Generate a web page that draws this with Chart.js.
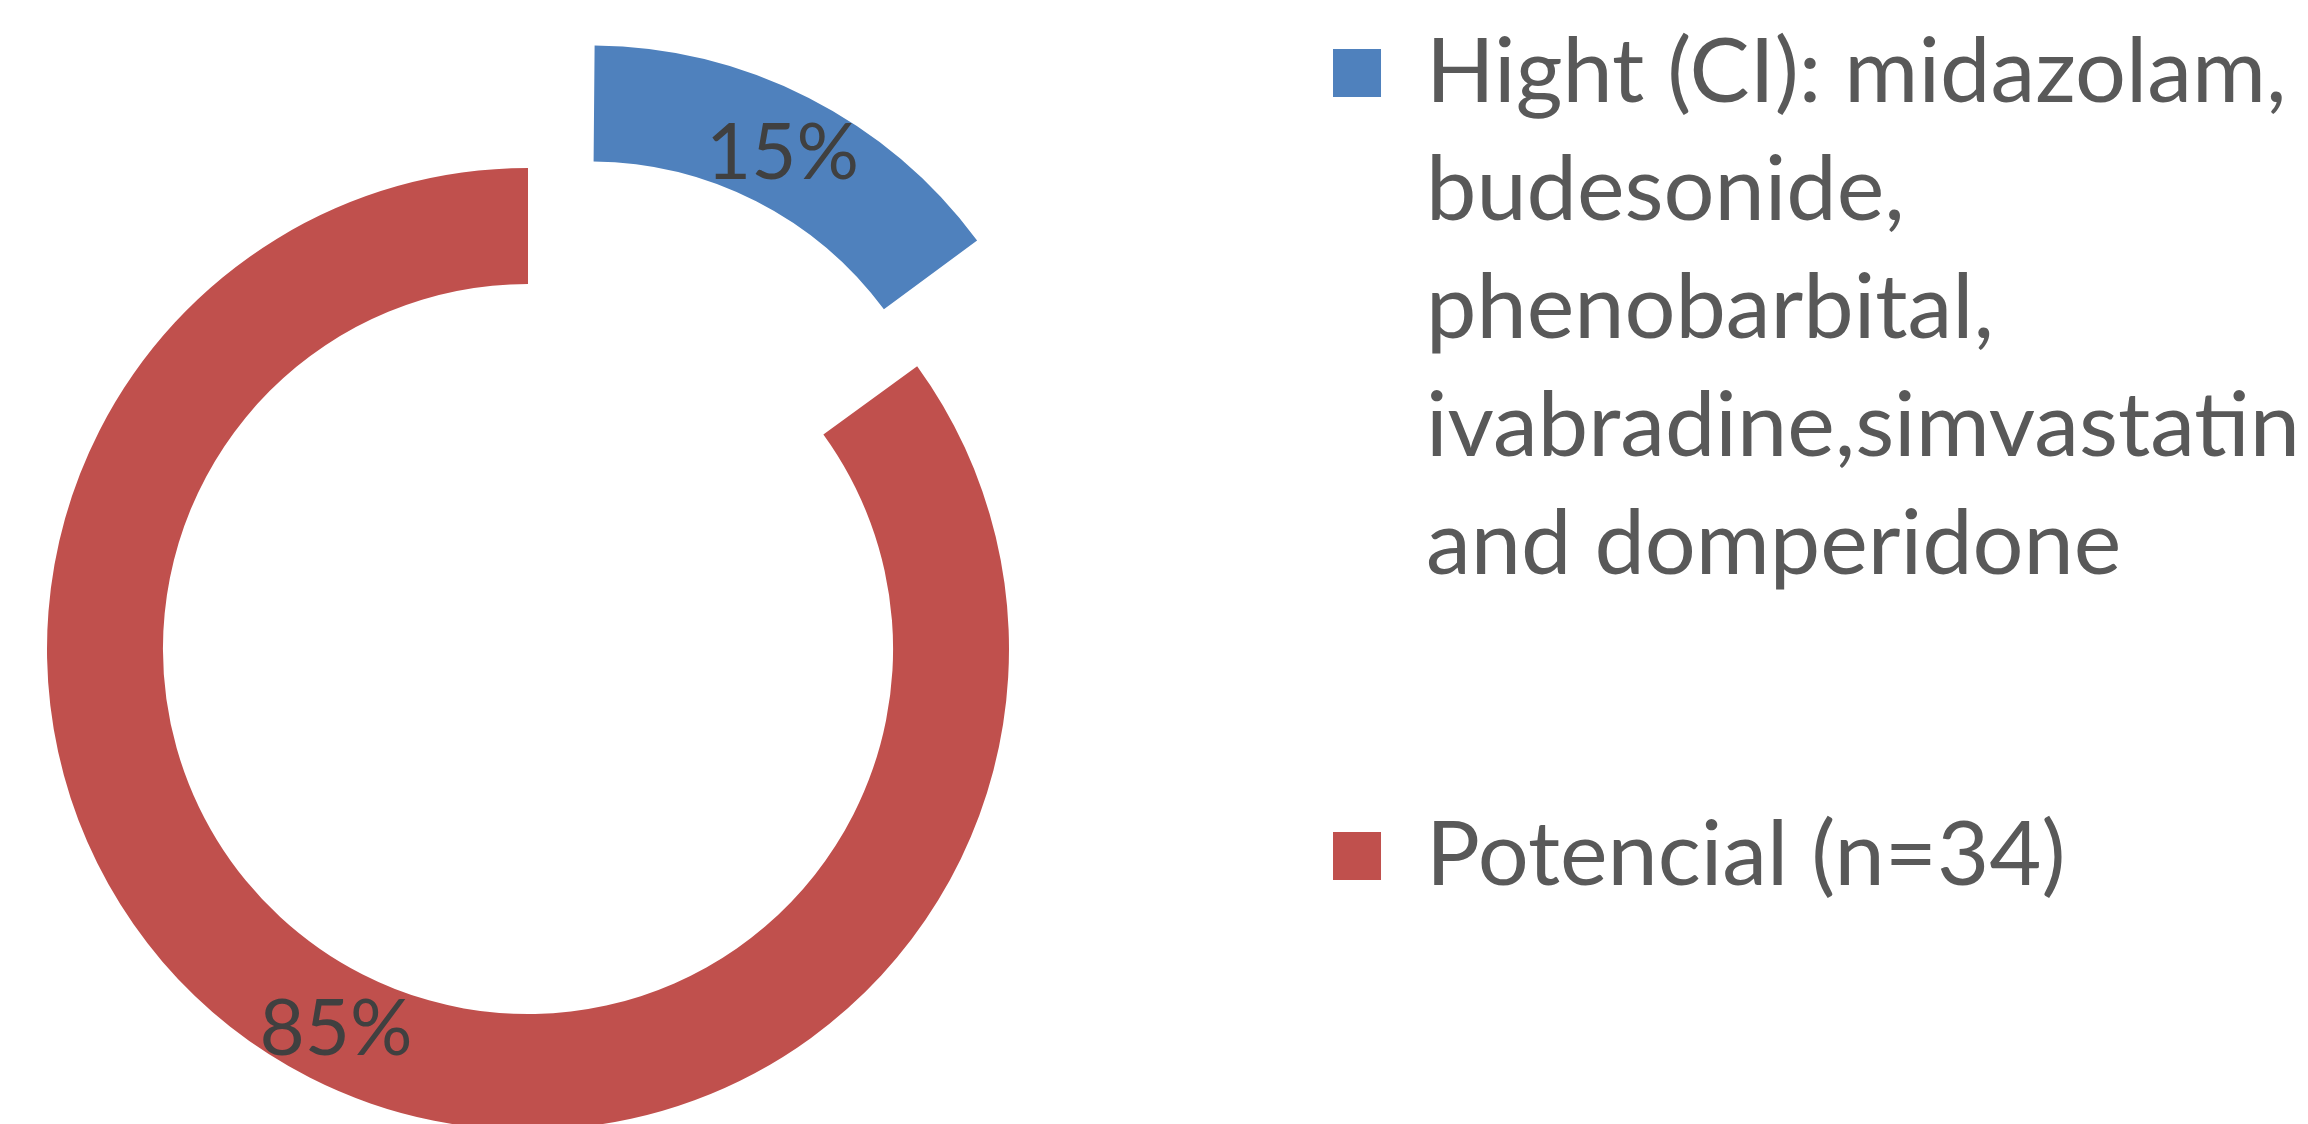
<!DOCTYPE html>
<html>
<head>
<meta charset="utf-8">
<script src="https://cdn.jsdelivr.net/npm/chart.js@4.4.1/dist/chart.umd.min.js"></script>
<style>
  html, body { margin: 0; padding: 0; background: #fff; overflow: hidden; width: 2308px; height: 1124px; position: relative; }
  #myChart { position: absolute; left: -84px; top: -173px; }
</style>
</head>
<body>
<canvas id="myChart" width="2400" height="1636"></canvas>
<script>
let categories = [
    ['Hight (CI): midazolam,', 'budesonide,', 'phenobarbital,', 'ivabradine,simvastatin', 'and domperidone'],
    ['Potencial (n=34)']
];
let counts = [6, 34];
let colorHex = ['#4F81BD', '#C0504D'];

const legendFont = { family: 'Lato', size: 90, lineHeight: 118 / 90 };
const legendPad = 193;
const legendBox = 48;

// chart area ends where the legend starts, so size the canvas from the legend text
let ctx = document.getElementById('myChart');
const probe = document.createElement('canvas').getContext('2d');
probe.font = legendFont.size + 'px ' + legendFont.family;
let widest = 0;
categories.forEach(lines => {
    const longest = lines.reduce((a, b) => a.length > b.length ? a : b);
    widest = Math.max(widest, probe.measureText(longest).width);
});
const legendWidth = legendPad + legendBox + legendFont.size / 2 + widest + 10;
ctx.width = Math.round(1224 + legendWidth);

// an exploded arc gets drawn with slightly larger radii, undo that so the ring keeps its size
const keepRadius = {
    id: 'keepRadius',
    beforeDatasetsDraw(chart) {
        const meta = chart.getDatasetMeta(0);
        const ctrl = meta.controller;
        meta.data.forEach(arc => {
            const shift = (arc.options.offset || 0) / 4;
            const fix = 1 - Math.sin(Math.min(Math.PI, arc.circumference || 0));
            arc.outerRadius = ctrl.outerRadius - shift * fix;
            arc.innerRadius = ctrl.innerRadius - shift * fix;
        });
    }
};

// percentage text in the middle of each ring piece
const sliceLabels = {
    id: 'sliceLabels',
    afterDatasetsDraw(chart) {
        const c = chart.ctx;
        const meta = chart.getDatasetMeta(0);
        const ctrl = meta.controller;
        const total = counts.reduce((a, b) => a + b, 0);
        c.save();
        c.font = '78px Lato';
        c.fillStyle = '#404040';
        c.textAlign = 'center';
        c.textBaseline = 'alphabetic';
        meta.data.forEach((arc, i) => {
            const mid = (arc.startAngle + arc.endAngle) / 2;
            // arcs are moved out by offset / 4 when drawn
            const r = (ctrl.innerRadius + ctrl.outerRadius) / 2 + (arc.options.offset || 0) / 4;
            const x = arc.x + Math.cos(mid) * r;
            const y = arc.y + Math.sin(mid) * r;
            c.fillText(Math.round(counts[i] / total * 100) + '%', x, y + 29);
        });
        c.restore();
    }
};

let myChart = new Chart(ctx, {
    type: 'doughnut',
    data: {
        labels: categories,
        datasets: [{
            data: counts,
            backgroundColor: colorHex,
            borderWidth: 0,
            offset: [550, 0],
            hoverOffset: 0,
            radius: 481,
            cutout: '75.9%',
            clip: false
        }]
    },
    options: {
        responsive: false,
        animation: false,
        events: [],
        layout: {
            padding: { left: 0, top: 8, right: 0, bottom: 0 }
        },
        plugins: {
            tooltip: { enabled: false },
            legend: {
                position: 'right',
                align: 'start',
                labels: {
                    boxWidth: legendBox,
                    boxHeight: 48,
                    padding: legendPad,
                    color: '#595959',
                    font: legendFont
                }
            }
        }
    },
    plugins: [keepRadius, sliceLabels]
});
</script>
</body>
</html>
